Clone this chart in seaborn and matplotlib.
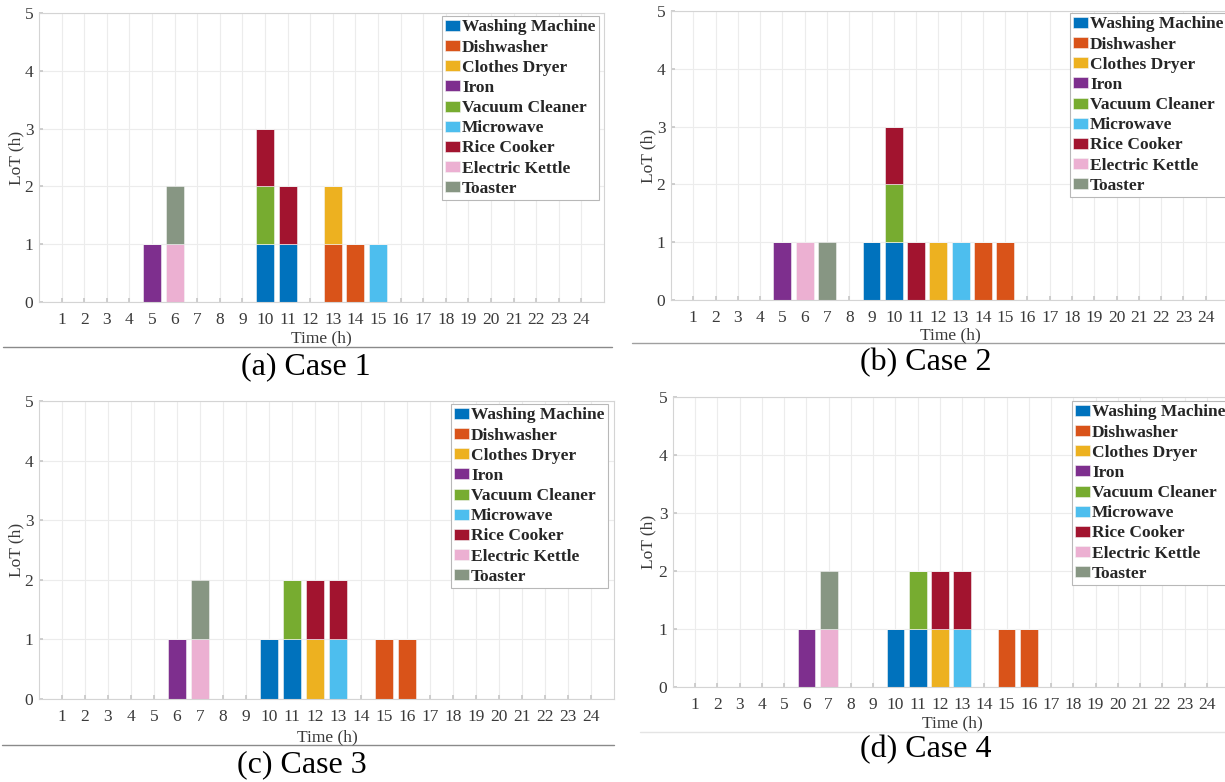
import numpy as np
import pandas as pd
import seaborn as sns
import matplotlib.pyplot as plt
from matplotlib.lines import Line2D

# appliances in stacking / legend order
appliances = ["Washing Machine", "Dishwasher", "Clothes Dryer", "Iron",
              "Vacuum Cleaner", "Microwave", "Rice Cooker", "Electric Kettle", "Toaster"]
colors = ["#0072BD", "#D95319", "#EDB120", "#7E2F8E", "#77AC30",
          "#4DBEEE", "#A2142F", "#ECB0D2", "#879683"]
hours = list(range(1, 25))

# hours in which each appliance runs (LoT = 1 h each)
case1 = {"Washing Machine": [10, 11], "Dishwasher": [13, 14], "Clothes Dryer": [13],
         "Iron": [5], "Vacuum Cleaner": [10], "Microwave": [15],
         "Rice Cooker": [10, 11], "Electric Kettle": [6], "Toaster": [6]}
case2 = {"Washing Machine": [9, 10], "Dishwasher": [14, 15], "Clothes Dryer": [12],
         "Iron": [5], "Vacuum Cleaner": [10], "Microwave": [13],
         "Rice Cooker": [10, 11], "Electric Kettle": [6], "Toaster": [7]}
case3 = {"Washing Machine": [10, 11], "Dishwasher": [15, 16], "Clothes Dryer": [12],
         "Iron": [6], "Vacuum Cleaner": [11], "Microwave": [13],
         "Rice Cooker": [12, 13], "Electric Kettle": [7], "Toaster": [7]}
case4 = {"Washing Machine": [10, 11], "Dishwasher": [15, 16], "Clothes Dryer": [12],
         "Iron": [6], "Vacuum Cleaner": [11], "Microwave": [13],
         "Rice Cooker": [12, 13], "Electric Kettle": [7], "Toaster": [7]}
captions = ["(a) Case 1", "(b) Case 2", "(c) Case 3", "(d) Case 4"]

sns.set_theme(style="whitegrid")
plt.rcParams['font.family'] = ['Liberation Serif', 'DejaVu Serif']

W, H = 1225, 782
fig = plt.figure(figsize=(W / 100, H / 100), dpi=100)


def px_axes(l, r, t, b):
    return fig.add_axes([l / W, 1 - b / H, (r - l) / W, (b - t) / H])


# axes boxes (pixels), legend corner, caption, separator line, axis label spots
layout = [
    dict(box=(39, 604, 13, 302), leg=(442, 16), cap=(306, 367), line=(3, 612, 347, "#8a8a8a"),
         xl=(321, 338), yl=16),
    dict(box=(671, 1228, 11, 300), leg=(1070, 13), cap=(926, 363), line=(632, 1225, 343, "#a0a0a0"),
         xl=(950, 335), yl=648),
    dict(box=(39, 614, 401, 699), leg=(451, 404), cap=(302, 765), line=(2, 614, 745, "#8a8a8a"),
         xl=(327, 737), yl=16),
    dict(box=(673, 1229, 397, 687), leg=(1072, 401), cap=(926, 750), line=(640, 1225, 732, "#e4e4e4"),
         xl=(952, 723), yl=648),
]

for case, cap, lay in zip([case1, case2, case3, case4], captions, layout):
    rows = []
    for app in appliances:
        for h in hours:
            rows.append((app, h, 1 if h in case[app] else 0))
    df = pd.DataFrame(rows, columns=["appliance", "hour", "lot"])

    l, r, t, b = lay["box"]
    ax = px_axes(l, r, t, b)
    bottom = np.zeros(len(hours))
    handles = []
    for app, col in zip(appliances, colors):
        vals = df[df.appliance == app]["lot"].to_numpy()
        bars = ax.bar(hours, vals, width=0.8, bottom=bottom, color=col,
                      edgecolor="#f4f4f4", linewidth=0.4, label=app)
        handles.append(bars)
        bottom = bottom + vals

    ax.set_xlim(0, 25)
    ax.set_ylim(0, 5)
    ax.set_xticks(hours)
    ax.set_yticks(range(0, 6))
    ax.grid(True, color="#ececec", linewidth=0.8)
    ax.set_axisbelow(True)
    for s in ax.spines.values():
        s.set_color("#d4d4d4")
        s.set_linewidth(0.8)
    ax.tick_params(axis="both", labelsize=12.5, labelcolor="#3a3a3a", direction="in",
                   length=3, color="#c8c8c8", left=True, bottom=True)
    ax.tick_params(axis="x", pad=7)
    ax.tick_params(axis="y", pad=4)

    fig.text(lay["xl"][0] / W, 1 - lay["xl"][1] / H, "Time (h)", ha="center", va="center",
             fontsize=12.5, color="#3a3a3a")
    fig.text(lay["yl"] / W, 1 - ((t + b) / 2) / H, "LoT (h)", ha="center", va="center",
             rotation=90, fontsize=12.5, color="#3a3a3a")

    leg = fig.legend(handles=handles, labels=appliances, loc="upper left",
                     bbox_to_anchor=(lay["leg"][0] / W, 1 - lay["leg"][1] / H),
                     borderaxespad=0, borderpad=0.2, labelspacing=0.24,
                     handlelength=0.85, handleheight=0.6, handletextpad=0.1,
                     frameon=True, fancybox=False, framealpha=1,
                     prop={"family": "Liberation Serif", "weight": "bold", "size": 12.5})
    leg.get_frame().set_edgecolor("#b8b8b8")
    leg.get_frame().set_linewidth(0.8)

    x0, x1, yl, lc = lay["line"]
    fig.add_artist(Line2D([x0 / W, x1 / W], [1 - yl / H, 1 - yl / H],
                          color=lc, linewidth=1.0))
    fig.text(lay["cap"][0] / W, 1 - lay["cap"][1] / H, cap, ha="center", va="center",
             fontsize=23, color="black")

fig.savefig("out.png", dpi=100)
